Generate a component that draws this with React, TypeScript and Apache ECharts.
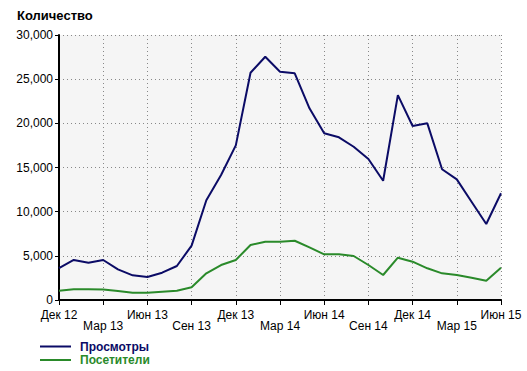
import React, { useEffect, useRef } from "react";
import * as echarts from "echarts";

const categories = [
  "Дек 12", "Янв 13", "Фев 13", "Мар 13", "Апр 13", "Май 13", "Июн 13", "Июл 13", "Авг 13", "Сен 13", "Окт 13", "Ноя 13",
  "Дек 13", "Янв 14", "Фев 14", "Мар 14", "Апр 14", "Май 14", "Июн 14", "Июл 14", "Авг 14", "Сен 14", "Окт 14", "Ноя 14",
  "Дек 14", "Янв 15", "Фев 15", "Мар 15", "Апр 15", "Май 15", "Июн 15",
];

const views = [3600, 4530, 4220, 4530, 3470, 2790, 2600, 3090, 3850, 6150, 11300, 14150, 17500, 25730, 27540, 25840, 25660, 21700, 18870, 18420, 17350, 15960, 13500, 23200, 19700, 20000, 14800, 13660, 11130, 8600, 12080];
const visitors = [1050, 1210, 1210, 1200, 1020, 830, 830, 940, 1050, 1440, 3020, 3960, 4530, 6230, 6600, 6600, 6710, 5960, 5170, 5170, 4980, 3960, 2830, 4790, 4340, 3590, 3020, 2830, 2530, 2190, 3660];

const yTicks = [0, 5000, 10000, 15000, 20000, 25000, 30000];

const blue = "#0b0b66";
const green = "#2a8a2a";
const font = "'Liberation Sans', Arial, sans-serif";

const legendBase = {
  orient: "vertical",
  left: 35,
  itemWidth: 31,
  itemHeight: 2,
  itemGap: 0,
  icon: "rect",
  selectedMode: false,
};

const legendText = { fontFamily: font, fontWeight: "bold", fontSize: 12, lineHeight: 12, padding: [0, 0, 0, 4] };

export default function App() {
  const ref = useRef<HTMLDivElement>(null);
  useEffect(() => {
    if (!ref.current) return;
    const chart = echarts.init(ref.current, undefined, { renderer: "svg" });
    chart.setOption({
      animation: false,
      backgroundColor: "#ffffff",
      title: {
        text: "Количество",
        left: 12,
        top: 4,
        textStyle: { fontFamily: font, fontWeight: "bold", fontSize: 13, color: "#000" },
      },
      legend: [
        {
          ...legendBase,
          top: 335.5,
          textStyle: legendText,
          data: [{ name: "Просмотры", textStyle: { color: blue } }],
        },
        {
          ...legendBase,
          top: 349,
          textStyle: legendText,
          data: [{ name: "Посетители", textStyle: { color: green } }],
        },
      ],
      grid: {
        left: 59,
        right: 26,
        top: 35,
        bottom: 71,
        containLabel: false,
        show: true,
        backgroundColor: "#f5f5f5",
        borderWidth: 0,
      },
      xAxis: {
        type: "category",
        data: categories,
        boundaryGap: false,
        axisLine: { lineStyle: { color: "#000", width: 2 } },
        axisTick: { show: true, interval: 2, length: 5, lineStyle: { color: "#000", width: 1 } },
        axisLabel: {
          interval: 2,
          margin: 9,
          fontFamily: font,
          fontSize: 12,
          lineHeight: 11,
          color: "#000",
          formatter: (v: string, i: number) => (i % 6 === 0 ? v : "\n" + v),
        },
        splitLine: { show: true, interval: 2, lineStyle: { color: "#888", type: [1, 3], width: 1 } },
      },
      yAxis: {
        type: "value",
        min: yTicks[0],
        max: yTicks[yTicks.length - 1],
        interval: 5000,
        axisLine: { show: true, lineStyle: { color: "#000", width: 2 } },
        axisTick: { show: true, length: 4, lineStyle: { color: "#000" } },
        axisLabel: {
          margin: 6,
          fontFamily: font,
          fontSize: 12,
          color: "#000",
          formatter: (v: number) => v.toLocaleString("en-US"),
        },
        splitLine: { show: true, lineStyle: { color: "#888", type: [1, 3], width: 1 } },
      },
      series: [
        {
          name: "Просмотры",
          type: "line",
          data: views,
          symbol: "none",
          lineStyle: { color: blue, width: 2 },
          itemStyle: { color: blue },
          z: 3,
        },
        {
          name: "Посетители",
          type: "line",
          data: visitors,
          symbol: "none",
          lineStyle: { color: green, width: 2 },
          itemStyle: { color: green },
          z: 2,
        },
      ],
    });
    return () => chart.dispose();
  }, []);
  return <div ref={ref} style={{ position: "fixed", left: 0, top: 0, width: 527, height: 371 }} />;
}
